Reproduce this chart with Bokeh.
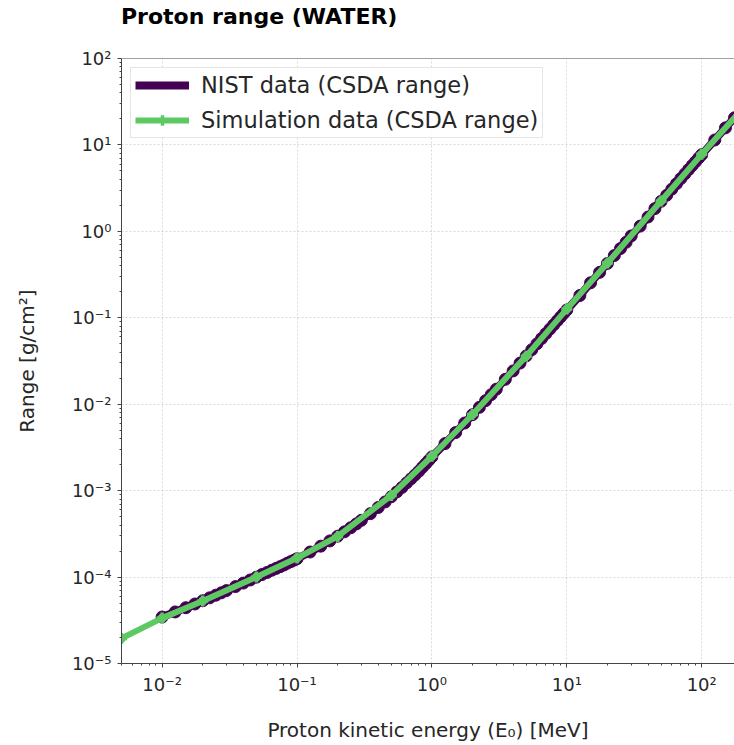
from bokeh.plotting import figure
from bokeh.layouts import column
from bokeh.models import (Range1d, FixedTicker, CustomJSTickFormatter, Legend, LegendItem, Span, Div)
from bokeh.embed import file_html
from bokeh.resources import INLINE

# NIST PSTAR (CSDA range) data, water
nist_energy = [0.01, 0.0125, 0.015, 0.0175, 0.02, 0.0225, 0.025, 0.0275, 0.03, 0.035, 0.04, 0.045,
               0.05, 0.055, 0.06, 0.065, 0.07, 0.075, 0.08, 0.085, 0.09, 0.095, 0.1, 0.125, 0.15,
               0.175, 0.2, 0.225, 0.25, 0.275, 0.3, 0.35, 0.4, 0.45, 0.5, 0.55, 0.6, 0.65, 0.7,
               0.75, 0.8, 0.85, 0.9, 0.95, 1.0, 1.25, 1.5, 1.75, 2.0, 2.25, 2.5, 2.75, 3.0, 3.5,
               4.0, 4.5, 5.0, 5.5, 6.0, 6.5, 7.0, 7.5, 8.0, 8.5, 9.0, 9.5, 10, 12.5, 15, 17.5,
               20, 22.5, 25, 27.5, 30, 35, 40, 45, 50, 55, 60, 65, 70, 75, 80, 85, 90, 95, 100,
               125, 150, 175, 200]
nist_range = [3.45e-5, 3.95e-5, 4.42e-5, 4.88e-5, 5.32e-5, 5.75e-5, 6.17e-5, 6.58e-5, 6.98e-5,
              7.76e-5, 8.52e-5, 9.26e-5, 9.98e-5, 1.07e-4, 1.13e-4, 1.20e-4, 1.26e-4, 1.32e-4,
              1.38e-4, 1.45e-4, 1.51e-4, 1.57e-4, 1.63e-4, 1.95e-4, 2.28e-4, 2.62e-4, 2.97e-4,
              3.34e-4, 3.72e-4, 4.12e-4, 4.54e-4, 5.42e-4, 6.38e-4, 7.40e-4, 8.50e-4, 9.68e-4,
              1.09e-3, 1.23e-3, 1.37e-3, 1.52e-3, 1.68e-3, 1.86e-3, 2.05e-3, 2.25e-3, 2.458e-3,
              3.50e-3, 4.70e-3, 6.06e-3, 7.56e-3, 9.20e-3, 1.10e-2, 1.29e-2, 1.49e-2, 1.94e-2,
              2.43e-2, 2.99e-2, 3.62e-2, 4.28e-2, 4.99e-2, 5.75e-2, 6.56e-2, 7.41e-2, 8.31e-2,
              9.25e-2, 0.1024, 0.1125, 0.1230, 0.1812, 0.2539, 0.3353, 0.4260, 0.5251, 0.6323,
              0.7472, 0.8853, 1.150, 1.466, 1.834, 2.227, 2.618, 3.079, 3.555, 4.080, 4.618,
              5.184, 5.777, 6.398, 7.045, 7.718, 11.41, 15.76, 20.62, 25.96]

# Simulation data (CSDA range)
sim_energy = [0.005, 0.01, 0.02, 0.05, 0.1, 0.2, 0.5, 1, 2, 5, 10, 20, 50, 100, 200]
sim_range = [1.95e-5, 3.35e-5, 5.3e-5, 1.0e-4, 1.66e-4, 2.95e-4, 8.8e-4, 2.5e-3, 7.6e-3,
             3.6e-2, 0.126, 0.43, 2.25, 7.8, 26.0]

x_major = [1e-2, 1e-1, 1e0, 1e1, 1e2]
y_major = [1e-5, 1e-4, 1e-3, 1e-2, 1e-1, 1e0, 1e1, 1e2]

PURPLE = "#440154"
GREEN = "#5ec962"
FONT = "DejaVu Sans"
TXT = "#262626"

TITLE_H = 40

title_div = Div(text="Proton range (WATER)", width=734, height=TITLE_H, margin=0,
                styles={"font-family": FONT, "font-size": "22px", "font-weight": "bold",
                        "color": "black", "padding-left": "121px", "padding-top": "4px",
                        "line-height": "26px", "box-sizing": "border-box"})

p = figure(width=734, height=745 - TITLE_H, x_axis_type="log", y_axis_type="log",
           x_range=Range1d(0.005, 175), y_range=Range1d(1e-5, 1e2),
           output_backend="svg", toolbar_location=None, margin=0,
           min_border_left=121, min_border_right=0, min_border_top=58 - TITLE_H,
           min_border_bottom=82)
p.outline_line_color = None
p.background_fill_color = "white"
p.border_fill_color = "white"

x_minor = [k * 10.0 ** e for e in range(-3, 3) for k in range(2, 10)]
y_minor = [k * 10.0 ** e for e in range(-6, 3) for k in range(2, 10)]

fmt = CustomJSTickFormatter(code="""
const sup = {"-":"\u207b","0":"\u2070","1":"\u00b9","2":"\u00b2","3":"\u00b3","4":"\u2074",
             "5":"\u2075","6":"\u2076","7":"\u2077","8":"\u2078","9":"\u2079"};
const e = Math.round(Math.log10(tick));
return "10" + String(e).split("").map(c => sup[c]).join("");
""")

for ax, major, minor in ((p.xaxis[0], x_major, x_minor), (p.yaxis[0], y_major, y_minor)):
    ax.ticker = FixedTicker(ticks=major, minor_ticks=minor)
    ax.formatter = fmt
    ax.major_label_text_font = FONT
    ax.major_label_text_font_size = "18px"
    ax.major_label_text_color = TXT
    ax.axis_label_text_font = FONT
    ax.axis_label_text_font_size = "20px"
    ax.axis_label_text_font_style = "normal"
    ax.axis_label_text_color = TXT
    ax.axis_line_color = "#444444"
    ax.major_tick_line_color = "#444444"
    ax.minor_tick_line_color = "#444444"
    ax.major_tick_in = 0
    ax.major_tick_out = 4
    ax.minor_tick_in = 0
    ax.minor_tick_out = 2

p.xaxis.axis_label = "Proton kinetic energy (E\u2080) [MeV]"
p.yaxis.axis_label = "Range [g/cm\u00b2]"
p.xaxis.major_label_standoff = 6
p.xaxis.axis_label_standoff = 20
p.yaxis.major_label_standoff = 6
p.yaxis.axis_label_standoff = 30

p.xgrid.ticker = FixedTicker(ticks=x_major)
p.ygrid.ticker = FixedTicker(ticks=y_major)
for g in (p.xgrid[0], p.ygrid[0]):
    g.grid_line_color = "#cfcfcf"
    g.grid_line_dash = "2 2"
    g.grid_line_width = 0.8

p.add_layout(Span(location=1e2, dimension="width", line_color="#444444", line_width=1))

nist_line = p.line(nist_energy, nist_range, line_color=PURPLE, line_width=8)
p.scatter(nist_energy, nist_range, marker="circle", size=12, fill_color=PURPLE, line_color=PURPLE)
sim_line = p.line(sim_energy, sim_range, line_color=GREEN, line_width=6)
p.scatter(sim_energy, sim_range, marker="circle", size=8, fill_color=GREEN, line_color=GREEN)
# errorbar-style "+" markers (also shown in legend)
sim_key = p.scatter(sim_energy, sim_range, marker="cross", size=11, line_color=GREEN, line_width=3.5)

legend = Legend(items=[LegendItem(label="NIST data (CSDA range)", renderers=[nist_line]),
                       LegendItem(label="Simulation data (CSDA range)", renderers=[sim_line, sim_key])],
                location="top_left")
legend.label_text_font = FONT
legend.label_text_font_size = "22.5px"
legend.label_text_color = TXT
legend.glyph_width = 54
legend.glyph_height = 26
legend.label_height = 26
legend.label_standoff = 12
legend.spacing = 9
legend.padding = 4
legend.margin = 9
legend.border_line_color = "#cccccc"
legend.border_line_width = 1
legend.background_fill_alpha = 0.85
p.add_layout(legend)

layout = column(title_div, p, spacing=0, margin=0)
open("out.html", "w").write(file_html(layout, INLINE))
